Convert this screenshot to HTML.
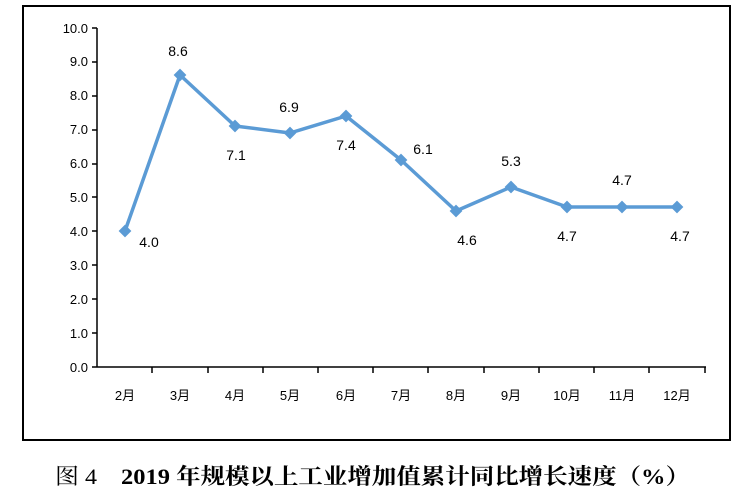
<!DOCTYPE html>
<html><head><meta charset="utf-8"><style>
body{margin:0;background:#fff;width:750px;height:498px;overflow:hidden}
</style></head><body>
<svg width="750" height="498" xmlns="http://www.w3.org/2000/svg">
<rect x="23" y="6" width="707" height="434" fill="#fff" stroke="#000" stroke-width="2"/>
<g font-family="Liberation Sans, 'Noto Sans CJK SC', sans-serif" font-size="13" fill="#000">
<g text-anchor="end">
<text x="88" y="372">0.0</text><text x="88" y="338">1.0</text><text x="88" y="304">2.0</text><text x="88" y="270">3.0</text><text x="88" y="236">4.0</text><text x="88" y="202">5.0</text><text x="88" y="168">6.0</text><text x="88" y="134">7.0</text><text x="88" y="100">8.0</text><text x="88" y="66">9.0</text><text x="88" y="33">10.0</text>
</g>
<g stroke="#000" stroke-width="1.5">
<line x1="97" y1="28" x2="97" y2="367"/><line x1="97" y1="367" x2="706" y2="367"/>
<line x1="92" y1="367" x2="97" y2="367"/><line x1="92" y1="333" x2="97" y2="333"/><line x1="92" y1="299" x2="97" y2="299"/><line x1="92" y1="265" x2="97" y2="265"/><line x1="92" y1="231" x2="97" y2="231"/><line x1="92" y1="197" x2="97" y2="197"/><line x1="92" y1="164" x2="97" y2="164"/><line x1="92" y1="130" x2="97" y2="130"/><line x1="92" y1="96" x2="97" y2="96"/><line x1="92" y1="62" x2="97" y2="62"/><line x1="92" y1="28" x2="97" y2="28"/>
<line x1="152" y1="367" x2="152" y2="373"/><line x1="208" y1="367" x2="208" y2="373"/><line x1="263" y1="367" x2="263" y2="373"/><line x1="318" y1="367" x2="318" y2="373"/><line x1="373" y1="367" x2="373" y2="373"/><line x1="428" y1="367" x2="428" y2="373"/><line x1="484" y1="367" x2="484" y2="373"/><line x1="539" y1="367" x2="539" y2="373"/><line x1="594" y1="367" x2="594" y2="373"/><line x1="649" y1="367" x2="649" y2="373"/><line x1="705" y1="367" x2="705" y2="373"/>
</g>
<g text-anchor="middle">
<text x="125" y="400">2月</text><text x="180" y="400">3月</text><text x="235" y="400">4月</text><text x="290" y="400">5月</text><text x="346" y="400">6月</text><text x="401" y="400">7月</text><text x="456" y="400">8月</text><text x="511" y="400">9月</text><text x="567" y="400">10月</text><text x="622" y="400">11月</text><text x="677" y="400">12月</text>
</g>
<polyline fill="none" stroke="#5b9bd5" stroke-width="3.5" stroke-linejoin="round" points="125,231 180,75 235,126 290,133 346,116 401,160 456,211 511,187 567,207 622,207 677,207"/>
<g fill="#5b9bd5">
<rect x="-4.5" y="-4.5" width="9" height="9" transform="translate(125,231) rotate(45)"/><rect x="-4.5" y="-4.5" width="9" height="9" transform="translate(180,75) rotate(45)"/><rect x="-4.5" y="-4.5" width="9" height="9" transform="translate(235,126) rotate(45)"/><rect x="-4.5" y="-4.5" width="9" height="9" transform="translate(290,133) rotate(45)"/><rect x="-4.5" y="-4.5" width="9" height="9" transform="translate(346,116) rotate(45)"/><rect x="-4.5" y="-4.5" width="9" height="9" transform="translate(401,160) rotate(45)"/><rect x="-4.5" y="-4.5" width="9" height="9" transform="translate(456,211) rotate(45)"/><rect x="-4.5" y="-4.5" width="9" height="9" transform="translate(511,187) rotate(45)"/><rect x="-4.5" y="-4.5" width="9" height="9" transform="translate(567,207) rotate(45)"/><rect x="-4.5" y="-4.5" width="9" height="9" transform="translate(622,207) rotate(45)"/><rect x="-4.5" y="-4.5" width="9" height="9" transform="translate(677,207) rotate(45)"/>
</g>
<g text-anchor="middle" font-size="14">
<text x="149" y="247">4.0</text><text x="178" y="56">8.6</text><text x="236" y="160">7.1</text><text x="289" y="112">6.9</text><text x="346" y="150">7.4</text><text x="423" y="154">6.1</text><text x="467" y="245">4.6</text><text x="511" y="166">5.3</text><text x="567" y="241">4.7</text><text x="622" y="185">4.7</text><text x="680" y="241">4.7</text>
</g>
</g>
<g font-family="'Liberation Serif','Noto Serif CJK SC',serif" font-size="22" fill="#000">
<text x="55" y="484" textLength="42" lengthAdjust="spacingAndGlyphs">图 4</text>
<text x="121" y="484" font-weight="bold" textLength="569" lengthAdjust="spacingAndGlyphs">2019 年规模以上工业增加值累计同比增长速度（%）</text>
</g>
</svg>
</body></html>
